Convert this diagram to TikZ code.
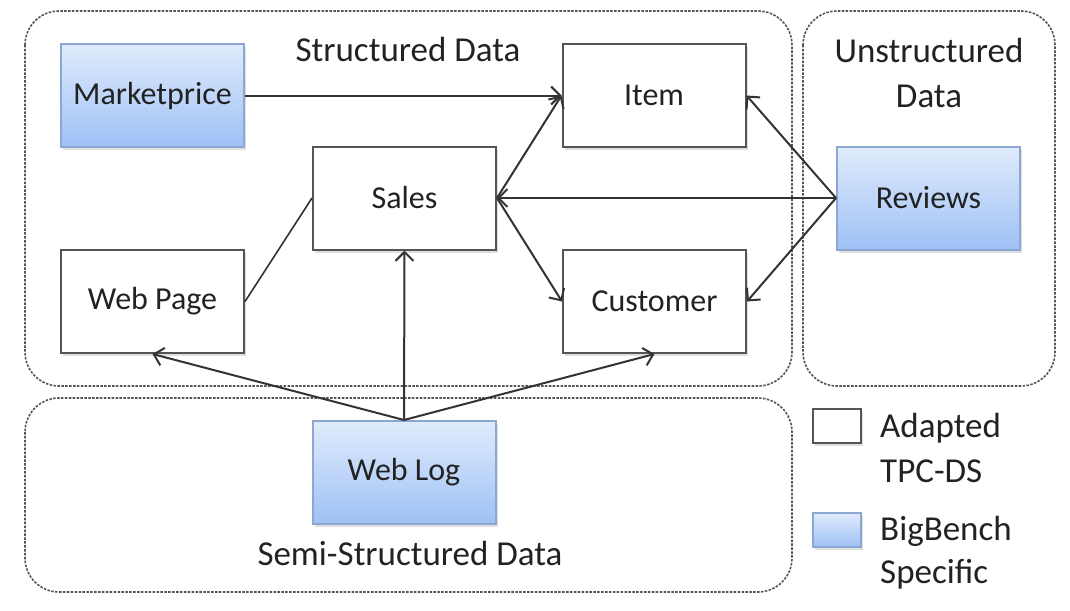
\documentclass[tikz,border=0pt]{standalone}
\usepackage{fontspec}
\setmainfont{Carlito}
\usetikzlibrary{arrows.meta,shadows}
\definecolor{boxline}{HTML}{555555}
\definecolor{arrowc}{HTML}{333333}
\definecolor{bluetop}{HTML}{E0EBFC}
\definecolor{bluebot}{HTML}{9EC1F5}
\definecolor{blueline}{HTML}{8CA7D2}
\definecolor{txt}{HTML}{222222}
\tikzset{
  tbl/.style={draw=boxline, line width=2pt, fill=white, minimum width=183pt, minimum height=103pt,
    inner sep=0pt, text=txt, font=\fontsize{32}{38}\selectfont,
    drop shadow={opacity=0.25, shadow xshift=2pt, shadow yshift=-3pt}},
  bluetbl/.style={tbl, draw=blueline, top color=bluetop, bottom color=bluebot},
  region/.style={draw=boxline, line width=1.6pt, dash pattern=on 2.5pt off 1.4pt, rounded corners=34pt},
  lbl/.style={text=txt, font=\fontsize{35}{40}\selectfont, inner sep=0pt, anchor=base},
  leg/.style={text=txt, font=\fontsize{35}{40}\selectfont, inner sep=0pt, anchor=base west},
  arr/.style={draw=arrowc, line width=2pt, -{Straight Barb[length=9pt,width=18pt,line width=2pt]}},
  ln/.style={draw=arrowc, line width=1.6pt}
}
\begin{document}
\begin{tikzpicture}[x=1pt,y=-1pt]
\useasboundingbox (0,0) rectangle (1070,610);
% regions
\draw[region] (25,11) rectangle (792,386);
\draw[region] (803,11) rectangle (1055,386);
\draw[region] (25,398) rectangle (792,592);
% region labels
\node[lbl] (lstruct) at (408,62) {Structured Data};
\node[lbl] (lunstr1) at (929,63) {Unstructured};
\node[lbl] (lunstr2) at (929,107) {Data};
\node[lbl] (lsemi) at (410,565) {Semi-Structured Data};
% tables
\node[bluetbl] (market) at (152.5,95.5) {Marketprice};
\node[tbl] (item) at (654,95.5) {Item};
\node[tbl] (sales) at (404.5,198) {Sales};
\node[tbl] (webpage) at (152.5,301.5) {Web Page};
\node[tbl] (customer) at (654.5,301.5) {Customer};
\node[bluetbl] (reviews) at (928.5,198) {Reviews};
\node[bluetbl] (weblog) at (404,472.5) {Web Log};
% connectors
\draw[arr] (market.east) -- (item.west);
\draw[arr] (sales.east) -- (item.west);
\draw[arr] (sales.east) -- (customer.west);
\draw[arr] (reviews.west) -- (sales.east);
\draw[arr] (reviews.west) -- (item.east);
\draw[arr] (reviews.west) -- (customer.east);
\draw[ln] (webpage.east) -- (sales.west);
\draw[arr] (weblog.north) -- (sales.south);
\draw[arr] (weblog.north) -- (webpage.south);
\draw[arr] (weblog.north) -- (customer.south);
% legend
\node[tbl, minimum width=48pt, minimum height=34pt] (legw) at (837,426) {};
\node[bluetbl, minimum width=48pt, minimum height=34pt] (legb) at (837,530) {};
\node[leg] (la1) at (880,437) {Adapted};
\node[leg] (la2) at (880,482) {TPC-DS};
\node[leg] (lb1) at (880,540) {BigBench};
\node[leg] (lb2) at (880,583) {Specific};
\end{tikzpicture}
\end{document}
